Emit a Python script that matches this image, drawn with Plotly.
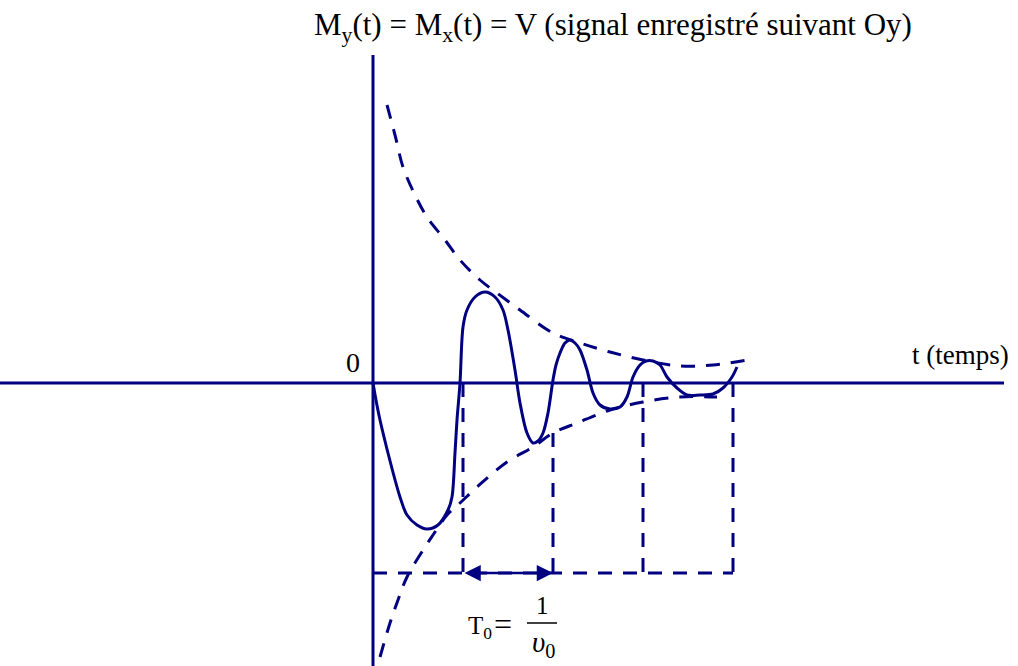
import plotly.graph_objects as go

# Damped oscillation V(t) recorded along Oy (time t, signal V; origin at 0)
signal_t = [0, 7, 27, 34, 44, 54, 65, 75, 79, 82, 84, 87, 90, 94, 102, 112, 122, 130,
            135, 142, 147, 154, 160, 165, 170, 175, 180, 183, 187, 192, 197, 202, 207,
            214, 220, 227, 237, 247, 254, 260, 267, 273, 280, 287, 294, 304, 314, 327,
            340, 350, 359, 364]
signal_v = [0, -37, -114, -132, -142, -146, -142, -127, -114, -70, -37, 0, 56, 73, 86, 91,
            86, 73, 53, 13, -20, -50, -60, -58, -50, -30, 3, 18, 30, 40, 43, 40, 33,
            13, -10, -22, -26, -24, -14, 6, 18, 22, 22, 18, 6, -5, -12, -12,
            -11, -5, 6, 16]

# Upper exponential envelope
upper_t = [14, 22, 30, 42, 54, 72, 87, 107, 124, 147, 180, 207, 237, 270, 307, 340, 374]
upper_v = [278, 248, 216, 188, 166, 143, 123, 103, 90, 73, 50, 40, 31, 23, 17, 18, 23]

# Lower exponential envelope
lower_t = [7, 17, 25, 34, 52, 60, 74, 87, 104, 134, 160, 180, 204, 237, 270, 307, 344]
lower_v = [-274, -240, -217, -194, -164, -152, -132, -120, -104, -79, -64, -50, -40, -27,
           -19, -14, -14]

# Period markers (T0 = 90) and where each vertical guide starts
period_marks = [90, 180, 270, 360]
mark_tops = [0, -50, 0, 0]
guide_level = -190

NAVY = "#000080"
DASH = "14px,11px"
SERIF = "Liberation Serif, Times New Roman, serif"

fig = go.Figure()

fig.add_trace(go.Scatter(x=upper_t, y=upper_v, mode="lines",
                         line=dict(color=NAVY, width=3, dash=DASH, shape="spline"),
                         hoverinfo="skip"))
fig.add_trace(go.Scatter(x=lower_t, y=lower_v, mode="lines",
                         line=dict(color=NAVY, width=3, dash=DASH, shape="spline"),
                         hoverinfo="skip"))

# vertical dashed guides down to the period baseline
for t, top in zip(period_marks, mark_tops):
    fig.add_trace(go.Scatter(x=[t, t], y=[top, guide_level], mode="lines",
                             line=dict(color=NAVY, width=3, dash=DASH),
                             hoverinfo="skip"))
# horizontal dashed baseline
fig.add_trace(go.Scatter(x=[0, period_marks[-1]], y=[guide_level, guide_level],
                         mode="lines", line=dict(color=NAVY, width=3, dash=DASH),
                         hoverinfo="skip"))

fig.add_trace(go.Scatter(x=signal_t, y=signal_v, mode="lines",
                         line=dict(color=NAVY, width=3, shape="spline", smoothing=0.9),
                         hoverinfo="skip"))

# axes
fig.add_shape(type="line", x0=-373, x1=631, y0=0, y1=0,
              line=dict(color=NAVY, width=3))
fig.add_shape(type="line", x0=0, x1=0, y0=-290, y1=328,
              line=dict(color=NAVY, width=3))

# double arrow showing one period
fig.add_annotation(x=period_marks[1], y=guide_level, ax=period_marks[0], ay=guide_level,
                   xref="x", yref="y", axref="x", ayref="y", text="",
                   showarrow=True, arrowhead=2, startarrowhead=2, arrowside="end+start",
                   arrowsize=1.3, startarrowsize=1.3, arrowwidth=2.5, arrowcolor=NAVY)

fig.add_annotation(x=240, y=356,
                   text="M<sub>y</sub>(t) = M<sub>x</sub>(t) = V (signal enregistré suivant Oy)",
                   showarrow=False, font=dict(family=SERIF, size=31, color="black"))
fig.add_annotation(x=-20, y=21, text="0", showarrow=False,
                   font=dict(family=SERIF, size=28, color="black"))
fig.add_annotation(x=587, y=28, text="t (temps)", showarrow=False,
                   font=dict(family=SERIF, size=27, color="black"))

# T0 = 1 / nu0
fig.add_annotation(x=107, y=-244, text="T<sub>0</sub>", showarrow=False,
                   font=dict(family=SERIF, size=25, color="black"))
fig.add_annotation(x=130, y=-241, text="=", showarrow=False,
                   font=dict(family=SERIF, size=32, color="black"))
fig.add_annotation(x=169, y=-222, text="1", showarrow=False,
                   font=dict(family=SERIF, size=25, color="black"))
fig.add_shape(type="line", x0=154, x1=184, y0=-240, y1=-240,
              line=dict(color="black", width=1.5))
fig.add_annotation(x=170, y=-261, text="<i>υ</i><sub>0</sub>", showarrow=False,
                   font=dict(family=SERIF, size=29, color="black"))

fig.update_layout(
    width=1018, height=666,
    margin=dict(l=0, r=0, t=0, b=0),
    paper_bgcolor="white", plot_bgcolor="white",
    showlegend=False,
    xaxis=dict(range=[-373, 645], visible=False, fixedrange=True),
    yaxis=dict(range=[-283, 383], visible=False, fixedrange=True),
)

fig.write_html("out.html")
